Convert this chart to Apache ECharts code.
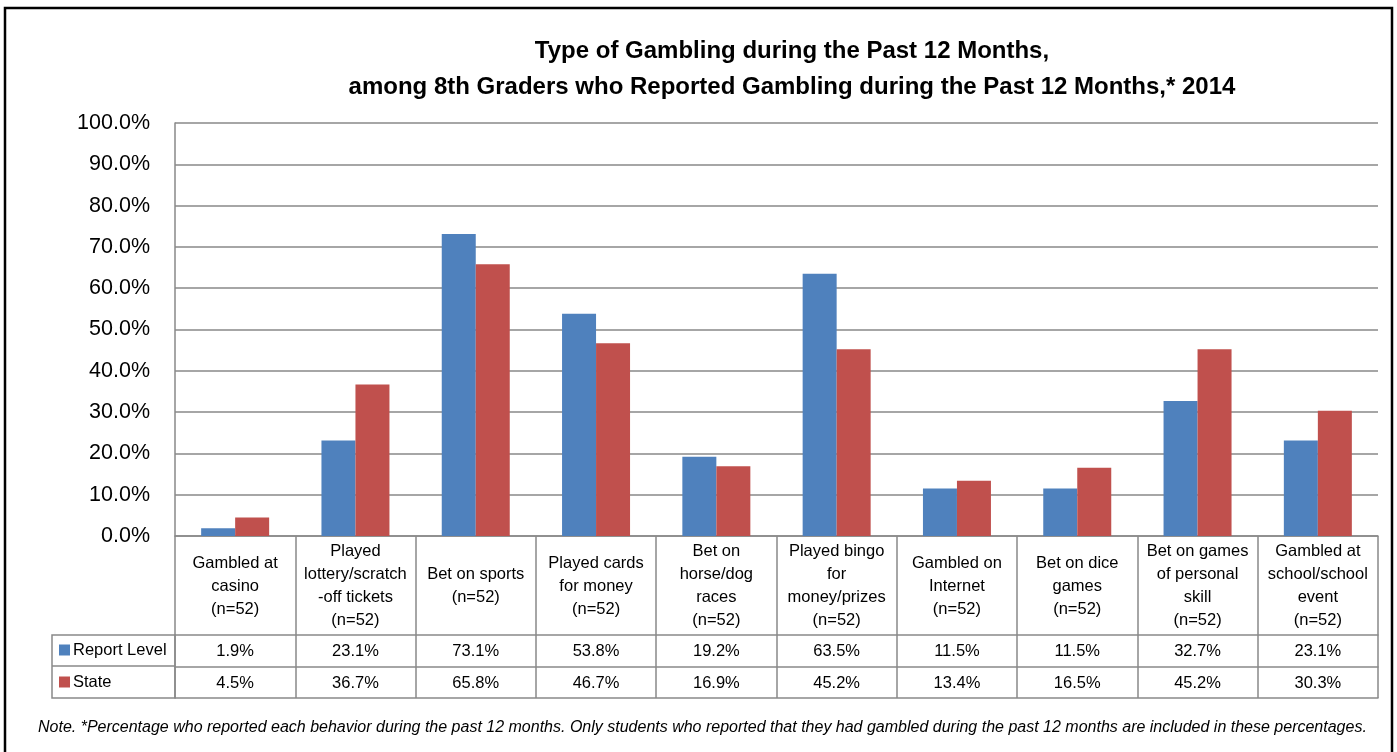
<!DOCTYPE html>
<html>
<head>
<meta charset="utf-8">
<title>Type of Gambling during the Past 12 Months</title>
<script src="https://cdn.jsdelivr.net/npm/echarts@6/dist/echarts.min.js"></script>
<style>
  html, body { margin: 0; padding: 0; background: #fff; }
  #main { width: 1397px; height: 752px; }
</style>
</head>
<body>
<div id="main"></div>
<script>
// data
var categories = [
  'Gambled at\ncasino\n(n=52)',
  'Played\nlottery/scratch\n-off tickets\n(n=52)',
  'Bet on sports\n(n=52)',
  'Played cards\nfor money\n(n=52)',
  'Bet on\nhorse/dog\nraces\n(n=52)',
  'Played bingo\nfor\nmoney/prizes\n(n=52)',
  'Gambled on\nInternet\n(n=52)',
  'Bet on dice\ngames\n(n=52)',
  'Bet on games\nof personal\nskill\n(n=52)',
  'Gambled at\nschool/school\nevent\n(n=52)'
];
var reportLevel = [1.9, 23.1, 73.1, 53.8, 19.2, 63.5, 11.5, 11.5, 32.7, 23.1];
var stateLevel = [4.5, 36.7, 65.8, 46.7, 16.9, 45.2, 13.4, 16.5, 45.2, 30.3];
var yTicks = [0, 10, 20, 30, 40, 50, 60, 70, 80, 90, 100];

var FONT = "'Liberation Sans Narrow', 'Arial Narrow', 'Liberation Sans', Arial, sans-serif";
var GRAY = '#898989';

function pct(v){ return v.toFixed(1) + '%'; }

var chart = echarts.init(document.getElementById('main'));
var option = {
  backgroundColor: '#fff',
  animation: false,
  textStyle: { fontFamily: FONT },
  title: {
    text: 'Type of Gambling during the Past 12 Months,\namong 8th Graders who Reported Gambling during the Past 12 Months,* 2014',
    left: 787,
    textAlign: 'center',
    top: 28,
    textStyle: { fontFamily: FONT, fontSize: 24, fontWeight: 'bold', color: '#000', lineHeight: 36 }
  },
  legend: {
    data: ['Report Level', 'State'],
    orient: 'vertical',
    left: 59,
    top: 640,
    padding: 0,
    icon: 'rect',
    itemWidth: 11,
    itemHeight: 11,
    itemGap: 12,
    textStyle: { fontFamily: FONT, fontSize: 16.5, color: '#000', lineHeight: 20, padding: [0, 0, 0, -2] }
  },
  grid: { left: 175, right: 19, top: 123, bottom: 216 },
  xAxis: [
    {
      type: 'category',
      data: categories,
      axisLine: { lineStyle: { color: GRAY, width: 1.5 } },
      axisTick: { show: true, interval: 0, length: 162, lineStyle: { color: GRAY, width: 1.5 } },
      axisLabel: { interval: 0, margin: 50, verticalAlign: 'middle', fontFamily: FONT, fontSize: 16.5, lineHeight: 23, color: '#000' }
    },
    // table rows
    {
      type: 'category',
      position: 'bottom',
      offset: 99,
      data: reportLevel.map(pct),
      axisLine: { show: true, lineStyle: { color: GRAY, width: 1.5 } },
      axisTick: { show: false },
      axisLabel: { interval: 0, margin: 8, fontFamily: FONT, fontSize: 16.5, color: '#000' }
    },
    {
      type: 'category',
      position: 'bottom',
      offset: 131,
      data: stateLevel.map(pct),
      axisLine: { show: true, lineStyle: { color: GRAY, width: 1.5 } },
      axisTick: { show: false },
      axisLabel: { interval: 0, margin: 8, fontFamily: FONT, fontSize: 16.5, color: '#000' }
    },
    {
      type: 'category',
      position: 'bottom',
      offset: 162,
      data: categories,
      axisLine: { show: true, lineStyle: { color: GRAY, width: 1.5 } },
      axisTick: { show: false },
      axisLabel: { show: false }
    }
  ],
  yAxis: {
    type: 'value',
    min: yTicks[0],
    max: yTicks[yTicks.length - 1],
    interval: 10,
    axisLine: { show: true, lineStyle: { color: GRAY, width: 1.5 } },
    axisTick: { show: false },
    splitLine: { lineStyle: { color: GRAY, width: 1.5 } },
    axisLabel: { margin: 25, fontFamily: FONT, fontSize: 21.5, color: '#000', formatter: pct }
  },
  series: [
    {
      name: 'Report Level',
      type: 'bar',
      xAxisIndex: 0,
      data: reportLevel,
      barWidth: 34,
      barGap: '0%',
      itemStyle: { color: '#4F81BD' }
    },
    {
      name: 'State',
      type: 'bar',
      xAxisIndex: 0,
      data: stateLevel,
      barWidth: 34,
      barGap: '0%',
      itemStyle: { color: '#C0504D' }
    }
  ],
  graphic: [
    // outer frame
    {
      type: 'rect',
      shape: { x: 5, y: 8, width: 1387, height: 760 },
      style: { fill: null, stroke: '#000', lineWidth: 2.5 },
      silent: true
    },
    // legend cell of the data table
    {
      type: 'rect',
      shape: { x: 52, y: 635, width: 123, height: 63 },
      style: { fill: null, stroke: GRAY, lineWidth: 1.5 },
      silent: true
    },
    {
      type: 'line',
      shape: { x1: 52, y1: 666, x2: 175, y2: 666 },
      style: { stroke: GRAY, lineWidth: 1.5 },
      silent: true
    },
    // note
    {
      type: 'text',
      left: 38,
      top: 720,
      style: {
        text: 'Note. *Percentage who reported each behavior during the past 12 months. Only students who reported that they had gambled during the past 12 months are included in these percentages.',
        fontFamily: FONT,
        fontSize: 16,
        fontStyle: 'italic',
        fill: '#000'
      }
    }
  ]
};
chart.setOption(option);

window.onresize = function(){
  chart.resize();
};
</script>
</body>
</html>
